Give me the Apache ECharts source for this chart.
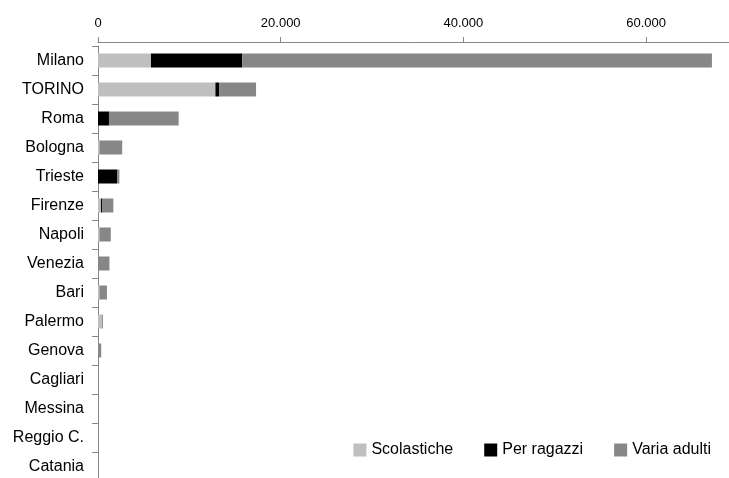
<!DOCTYPE html>
<html>
<head>
<meta charset="utf-8">
<script src="https://cdn.jsdelivr.net/npm/echarts@6/dist/echarts.min.js"></script>
<style>
html,body{margin:0;padding:0;background:#fff;}
#chart{width:729px;height:478px;}
</style>
</head>
<body>
<div id="chart"></div>
<script>
const categories = ["Milano","TORINO","Roma","Bologna","Trieste","Firenze","Napoli","Venezia","Bari","Palermo","Genova","Cagliari","Messina","Reggio C.","Catania"];
const scolastiche = [5800, 12850, 0, 150, 0, 330, 150, 0, 150, 450, 0, 0, 0, 0, 0];
const perRagazzi  = [10000, 400, 1200, 0, 2120, 150, 0, 0, 0, 0, 0, 0, 0, 0, 0];
const variaAdulti = [51400, 4050, 7630, 2500, 220, 1200, 1250, 1250, 830, 100, 350, 0, 0, 0, 0];
const seriesNames = ["Scolastiche","Per ragazzi","Varia adulti"];
const xTicks = [0, 20000, 40000, 60000];

const fmt = v => String(v).replace(/\B(?=(\d{3})+(?!\d))/g, '.');
const FONT = 'Liberation Sans, Arial, sans-serif';
const colors = ['#bfbfbf', '#000000', '#878787'];

const chart = echarts.init(document.getElementById('chart'), null, {renderer:'canvas'});
const data = [scolastiche, perRagazzi, variaAdulti];
chart.setOption({
  animation: false,
  backgroundColor: '#ffffff',
  grid: {left: 98, top: 46, width: 639.5, height: 435, containLabel: false, outerBoundsMode: 'none'},
  legend: {
    right: 13, top: 437, itemWidth: 13, itemHeight: 13, itemGap: 31,
    icon: 'rect',
    textStyle: {fontFamily: FONT, fontSize: 16, color: '#000'},
    data: seriesNames
  },
  xAxis: {
    type: 'value', position: 'top', min: 0, max: 70000, interval: 20000,
    offset: 4,
    splitLine: {show: false},
    axisLine: {show: true, lineStyle: {color: '#868686', width: 1}},
    axisTick: {show: true, length: 5, lineStyle: {color: '#868686'}},
    axisLabel: {
      show: true, margin: 12, showMaxLabel: false,
      fontFamily: FONT, fontSize: 13, color: '#000',
      formatter: v => xTicks.indexOf(v) >= 0 ? fmt(v) : ''
    }
  },
  yAxis: {
    type: 'category', inverse: true, data: categories,
    axisLine: {show: true, lineStyle: {color: '#868686', width: 1}},
    axisTick: {show: true, length: 6, lineStyle: {color: '#868686'}},
    axisLabel: {fontFamily: FONT, fontSize: 16, color: '#000', margin: 14}
  },
  series: seriesNames.map((n, i) => ({
    name: n, type: 'bar', stack: 'total', barWidth: 14,
    itemStyle: {color: colors[i]},
    data: data[i]
  }))
});
</script>
</body>
</html>
